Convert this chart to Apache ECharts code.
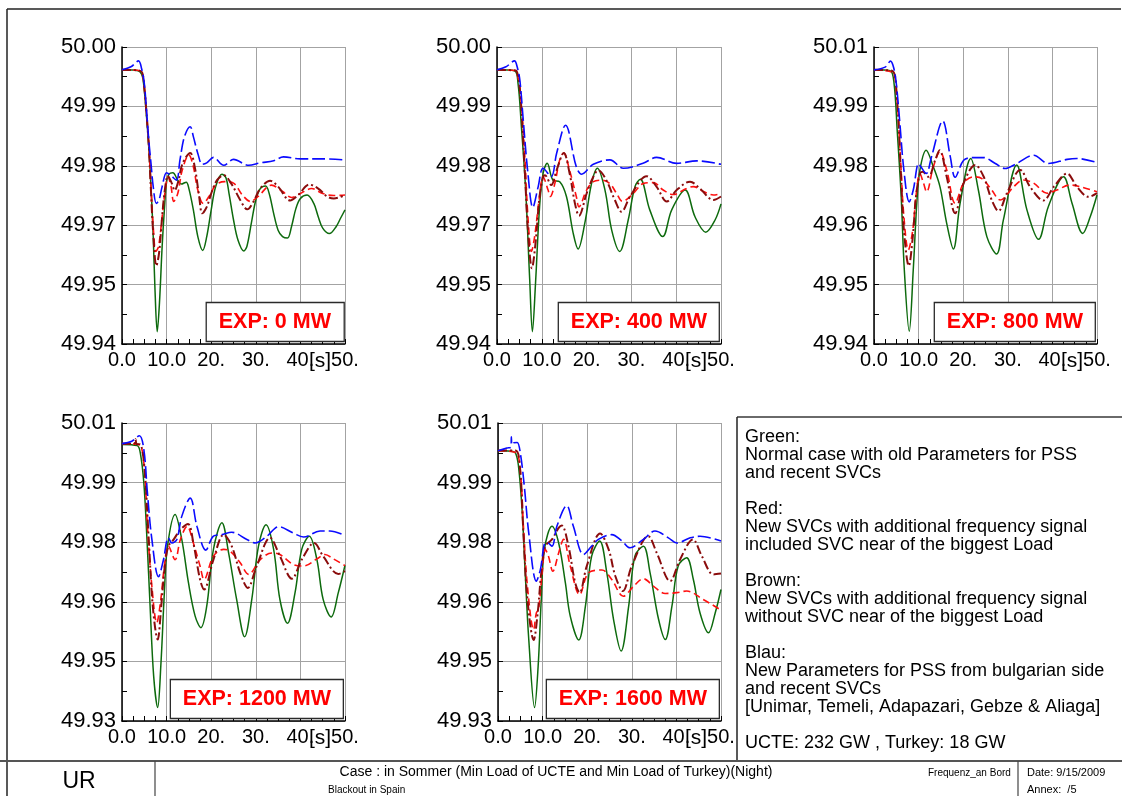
<!DOCTYPE html>
<html>
<head>
<meta charset="utf-8">
<script src="https://cdn.jsdelivr.net/npm/echarts@6/dist/echarts.min.js"></script>
<style>
html,body{margin:0;padding:0;background:#fff;}
#c{width:1122px;height:796px;}
</style>
</head>
<body>
<div id="c"></div>
<script>
// ---------- tick labels ----------
const X_LABELS = ['0.0','10.0','20.','30.','40.','50.'];
const X_UNIT = '[s]';
const Y_LABELS_A = ['49.94','49.95','49.97','49.98','49.99','50.00']; // 0 MW, 400 MW
const Y_LABELS_B = ['49.94','49.95','49.96','49.98','49.99','50.01']; // 800 MW
const Y_LABELS_C = ['49.93','49.95','49.96','49.98','49.99','50.01']; // 1200, 1600 MW

// ---------- data: [time s, frequency deviation from 50 Hz in mHz] ----------
// EXP: 0 MW
const p1Green = [[0,-4.6],[3,-4.7],[4,-5.0],[4.6,-6.0],[5,-8.7],[5.5,-14.1],[6,-20.2],[6.5,-28.2],[7,-38.3],[7.4,-49.1],[7.9,-57.5],[8.4,-51.7],[9,-40.3],[9.5,-32.9],[10,-27.2],[10.5,-25.7],[11.4,-25.4],[12.5,-26.9],[13.3,-27.7],[14.4,-27.3],[15,-28.6],[16,-32.9],[17,-38.3],[18.1,-41.1],[19,-38.3],[20,-32.9],[21,-28.2],[22.4,-25.7],[23.3,-26.4],[24,-29.6],[25,-34.9],[26,-39.0],[27.3,-41.2],[28,-40.3],[29,-35.6],[30,-30.9],[31,-28.6],[32.2,-28.1],[33,-29.6],[34,-33.6],[35,-37.0],[36,-38.3],[37.1,-38.6],[38,-36.3],[39,-32.6],[40,-30.6],[41.5,-29.9],[43,-31.6],[44,-34.3],[45,-36.6],[46.5,-37.7],[48,-36.3],[49,-34.6],[50,-32.9]];
const p1Red = [[0,-4.6],[3.5,-4.7],[4.5,-5.4],[5,-8.1],[5.5,-13.4],[6,-19.5],[6.5,-28.2],[7,-36.3],[7.6,-41.3],[8.2,-40.3],[9,-34.3],[9.6,-29.6],[10.3,-26.2],[11,-28.2],[11.6,-31.2],[12.5,-29.6],[13.5,-24.9],[15,-21.8],[16,-24.2],[17,-28.9],[18.2,-31.6],[19.5,-30.2],[21,-27.9],[23,-27.2],[25,-27.5],[27,-29.9],[28.8,-31.2],[30.5,-30.2],[33.5,-27.9],[36,-29.2],[38,-30.4],[40,-29.6],[42.5,-28.6],[45,-29.6],[47.5,-30.0],[50,-29.9]];
const p1Brown = [[0,-4.6],[3.5,-4.7],[4.5,-5.1],[5,-8.1],[5.5,-13.4],[6,-19.8],[6.5,-29.2],[7,-37.6],[7.7,-44.2],[8.3,-41.7],[9,-34.3],[9.6,-28.9],[10.3,-26.1],[11.2,-27.6],[11.8,-29.0],[12.6,-27.2],[13.6,-23.5],[15.3,-21.4],[16.3,-24.2],[17.3,-30.2],[18,-33.6],[19,-32.3],[20,-29.6],[21.3,-26.9],[22.8,-25.9],[24.5,-27.6],[26.5,-30.9],[28.1,-32.8],[29.5,-31.2],[31,-28.6],[33.2,-27.0],[35,-28.2],[37.7,-31.0],[39.5,-29.9],[42,-27.8],[44,-28.6],[46,-30.2],[47.5,-30.6],[50,-29.9]];
const p1Blue = [[0,-4.6],[2,-4.0],[3.7,-2.8],[4.4,-4.4],[5,-7.4],[5.5,-12.8],[6,-18.8],[6.5,-23.5],[7,-28.2],[7.7,-31.6],[8.3,-30.9],[9,-28.2],[10,-25.4],[11,-26.0],[12.2,-26.9],[13,-22.8],[14,-18.1],[15.3,-16.1],[16,-18.1],[17,-21.5],[18,-23.7],[19,-23.4],[20.5,-22.3],[22.8,-23.9],[25,-22.7],[28.4,-23.9],[31,-23.4],[34,-23.0],[36.2,-22.2],[40,-22.6],[45,-22.6],[50,-22.8]];

// EXP: 400 MW
const p2Green = [[0,-4.6],[3.9,-4.8],[4.7,-7.4],[5.4,-15.5],[6.4,-28.9],[7.3,-47.0],[7.9,-57.5],[8.6,-47.7],[9.5,-32.3],[10.3,-25.5],[11.2,-23.5],[12.5,-26.9],[14.0,-27.2],[15.5,-30.2],[17.0,-37.6],[18.1,-40.8],[19.6,-35.6],[21.1,-27.6],[22.4,-24.5],[24.1,-28.9],[25.6,-37.0],[27.4,-41.3],[29.3,-34.9],[30.8,-28.2],[32.0,-26.7],[34.1,-32.9],[37.0,-38.3],[39.0,-32.9],[42.0,-28.9],[44.2,-34.3],[46.6,-37.4],[48.7,-34.9],[50,-31.7]];
const p2Red = [[0,-4.6],[3.5,-4.7],[4.3,-5.0],[5.1,-8.4],[6.2,-22.0],[6.9,-34.3],[7.7,-41.3],[8.4,-38.3],[9.4,-30.9],[10.3,-26.2],[11.4,-28.9],[11.9,-30.2],[12.9,-27.6],[14.0,-22.8],[14.9,-21.4],[16.2,-24.9],[17.7,-30.2],[18.3,-32.3],[20.0,-28.9],[21.5,-27.2],[23.3,-26.9],[25.2,-27.6],[26.7,-29.6],[28.0,-31.2],[30.4,-29.6],[32.6,-27.6],[34.9,-27.4],[37.1,-28.9],[39.3,-29.8],[42.3,-28.6],[43.8,-28.2],[46.1,-29.2],[48.3,-29.9],[50,-29.6]];
const p2Brown = [[0,-4.6],[3.5,-4.7],[4.3,-4.8],[5.1,-8.4],[6.2,-24.9],[6.9,-37.0],[7.8,-44.7],[8.6,-39.6],[9.5,-30.2],[10.3,-26.2],[10.7,-25.9],[12.1,-27.9],[13.3,-24.9],[14.9,-21.4],[16.2,-25.5],[17.4,-31.6],[18.3,-34.1],[20.0,-29.6],[21.5,-26.2],[22.6,-24.9],[24.4,-26.9],[26.3,-30.9],[27.8,-33.3],[29.7,-30.2],[33.4,-26.1],[35.6,-28.2],[37.9,-31.2],[40.1,-28.9],[43.1,-27.2],[45.3,-28.6],[48.3,-30.9],[50,-30.2]];
const p2Blue = [[0,-4.6],[2,-4.0],[3.9,-2.8],[4.5,-4.0],[5.1,-6.7],[5.8,-14.1],[6.9,-25.5],[8.0,-32.4],[9.2,-28.2],[10.3,-24.5],[12.1,-26.2],[13.3,-21.5],[15.3,-15.8],[17.7,-24.2],[18.9,-25.7],[21.5,-23.7],[25.2,-22.8],[28.2,-24.5],[32.6,-23.5],[35.6,-22.3],[40.1,-23.5],[44.6,-23.0],[50,-23.7]];

// EXP: 800 MW
const p3Green = [[0,0.0],[3.6,-0.2],[4.5,-3.0],[5.2,-13.2],[6.1,-27.8],[6.8,-43.8],[7.9,-57.2],[8.8,-43.8],[9.6,-29.2],[10.3,-21.9],[11.7,-17.6],[13.3,-21.2],[14.8,-25.6],[16.3,-33.6],[17.8,-39.2],[19.3,-29.2],[21.7,-19.4],[23.4,-26.3],[25.3,-36.5],[27.5,-40.3],[29.0,-32.9],[32.0,-20.8],[34.3,-30.7],[36.9,-37.1],[39.1,-29.9],[42.5,-23.4],[44.4,-29.2],[46.8,-35.8],[48.5,-32.1],[50,-27.4]];
const p3Red = [[0,0.0],[4.0,-0.5],[5.1,-5.9],[6.0,-20.5],[6.7,-32.1],[7.7,-39.4],[8.7,-35.0],[9.4,-27.8],[10.3,-22.7],[11.1,-24.8],[11.8,-26.7],[13.3,-21.2],[14.8,-17.9],[16.3,-21.9],[18.2,-29.2],[20.1,-24.8],[22.3,-23.4],[24.2,-23.8],[26.4,-26.3],[28.3,-28.5],[31.3,-25.6],[33.5,-24.1],[35.8,-24.8],[38.8,-27.0],[41.0,-26.3],[44.0,-25.2],[46.3,-25.6],[50,-26.7]];
const p3Brown = [[0,0.0],[4.0,-0.2],[5.1,-5.9],[6.0,-21.9],[6.7,-35.0],[7.8,-42.9],[8.7,-36.5],[9.4,-27.8],[10.3,-22.7],[10.9,-22.3],[12.2,-23.4],[13.7,-19.8],[14.7,-17.6],[16.3,-23.4],[18.2,-31.4],[20.1,-24.8],[22.7,-20.8],[24.6,-23.4],[26.4,-28.5],[27.9,-30.9],[29.8,-27.0],[32.8,-21.9],[35.0,-25.6],[38.0,-28.6],[40.3,-25.6],[43.3,-22.7],[45.5,-25.6],[48.1,-27.8],[50,-27.0]];
const p3Blue = [[0,0.0],[2.5,0.6],[3.7,1.9],[4.4,0.5],[5.0,-3.0],[5.8,-11.7],[6.7,-21.9],[7.9,-28.9],[8.8,-26.3],[10.0,-20.5],[10.5,-21.2],[11.7,-22.7],[12.9,-19.0],[15.4,-11.2],[17.1,-19.0],[18.2,-23.5],[20.1,-19.8],[22.3,-19.2],[24.6,-19.2],[27.2,-20.5],[29.4,-21.6],[32.0,-20.5],[35.8,-18.7],[39.1,-20.5],[43.3,-19.6],[45.5,-19.4],[50,-20.3]];

// EXP: 1200 MW
const p4Green = [[0,-0.4],[3.4,-0.7],[4.1,-2.5],[4.9,-10.1],[5.6,-24.3],[6.3,-41.1],[7.1,-58.7],[8.0,-66.6],[8.7,-56.2],[9.5,-37.7],[10.2,-26.0],[11.9,-18.0],[13.4,-24.3],[14.9,-35.2],[16.4,-43.6],[17.7,-46.5],[19.0,-41.1],[20.5,-26.8],[22.4,-20.1],[23.9,-27.7],[25.7,-39.4],[27.5,-48.8],[29.1,-39.4],[30.6,-26.0],[32.3,-20.6],[34.0,-26.8],[35.4,-39.4],[37.1,-45.4],[38.8,-37.7],[40.3,-26.8],[42.0,-23.5],[43.7,-29.4],[45.1,-39.4],[46.9,-43.8],[48.5,-37.7],[50,-30.8]];
const p4Red = [[0,-0.2],[3.7,-0.4],[4.9,-5.1],[5.7,-21.0],[6.7,-36.1],[7.8,-45.3],[8.7,-39.4],[9.5,-31.0],[10.4,-26.0],[11.9,-29.4],[13.1,-24.3],[14.6,-21.0],[16.0,-25.2],[17.5,-31.0],[18.4,-34.4],[20.5,-28.5],[22.8,-26.8],[24.3,-27.3],[26.5,-30.2],[28.4,-33.1],[31.0,-29.4],[33.6,-27.7],[35.4,-28.1],[38.4,-30.6],[40.7,-31.0],[43.7,-29.2],[45.5,-28.1],[47.4,-29.2],[50,-30.9]];
const p4Brown = [[0,-0.2],[2.7,-0.2],[3.0,1.0],[3.3,-0.3],[4.1,-0.4],[5.0,-5.9],[6.0,-24.3],[6.9,-41.1],[8.0,-49.5],[8.8,-41.1],[9.6,-31.0],[10.4,-26.0],[11.6,-24.3],[13.1,-21.8],[14.8,-20.4],[16.0,-25.2],[17.5,-34.4],[18.4,-36.9],[20.5,-29.4],[22.8,-23.1],[24.6,-26.0],[26.5,-32.7],[28.2,-36.5],[30.2,-31.0],[33.2,-23.9],[35.4,-28.5],[38.1,-34.2],[40.3,-29.4],[43.1,-25.2],[45.1,-28.5],[48.5,-33.0],[50,-32.3]];
const p4Blue = [[0,-0.2],[2.2,0.4],[3.9,1.8],[4.9,-1.7],[5.7,-12.6],[6.7,-24.3],[8.2,-33.7],[9.3,-29.4],[10.4,-23.9],[11.2,-25.2],[12.3,-24.3],[13.4,-18.5],[15.3,-13.9],[16.8,-21.0],[18.8,-27.0],[20.5,-23.5],[22.4,-23.1],[24.6,-22.5],[28.0,-24.3],[29.9,-25.2],[32.5,-23.5],[35.1,-21.1],[38.4,-22.7],[40.7,-23.7],[44.4,-22.2],[46.6,-22.2],[50,-23.3]];

// EXP: 1600 MW
const p5Green = [[0,-2.0],[2.8,-2.1],[3.9,-2.5],[4.6,-5.9],[5.4,-16.8],[6.1,-32.7],[6.9,-49.5],[8.2,-66.6],[9.0,-56.2],[9.7,-39.4],[10.4,-26.8],[12.1,-21.0],[13.6,-25.2],[15.1,-35.2],[16.2,-43.6],[18.1,-49.6],[19.6,-41.1],[21.0,-28.5],[22.8,-24.7],[24.4,-32.7],[25.9,-44.4],[27.6,-52.4],[29.3,-41.1],[30.7,-28.5],[32.6,-26.0],[34.1,-32.7],[36.0,-44.4],[37.5,-49.5],[39.0,-41.1],[40.4,-31.0],[42.3,-28.9],[43.8,-34.4],[45.3,-42.8],[47.2,-47.8],[48.7,-42.8],[50,-36.9]];
const p5Red = [[0,-2.0],[3.9,-2.4],[4.9,-5.9],[5.7,-21.0],[6.6,-36.1],[8.0,-47.0],[8.6,-42.8],[9.1,-41.9],[9.9,-32.7],[10.6,-26.8],[11.3,-28.5],[12.3,-32.3],[13.6,-27.7],[14.7,-24.3],[16.2,-31.0],[18.3,-38.2],[20.3,-32.7],[23.3,-32.0],[25.5,-34.4],[28.1,-38.6],[30.4,-36.1],[32.6,-34.2],[34.9,-36.1],[37.5,-37.9],[40.1,-37.7],[42.3,-37.3],[46.0,-39.4],[50,-42.1]];
const p5Brown = [[0,-1.9],[3.9,-1.9],[4.9,-5.9],[5.7,-22.7],[6.6,-39.4],[8.0,-49.6],[8.9,-42.8],[9.7,-32.7],[10.6,-26.0],[12.1,-24.3],[13.6,-21.4],[14.3,-20.8],[15.8,-26.0],[17.3,-35.2],[18.3,-37.7],[19.9,-31.0],[22.9,-22.8],[24.8,-26.8],[26.3,-33.5],[28.0,-37.3],[30.0,-31.0],[33.7,-23.5],[35.6,-27.7],[38.6,-34.8],[40.8,-29.4],[43.7,-24.3],[45.7,-28.5],[48.3,-33.1],[50,-32.9]];
const p5Blue = [[0,-2.0],[2.0,-1.3],[2.9,-1.0],[3.0,1.5],[3.1,-0.5],[3.5,0.0],[4.3,0.1],[5.0,-2.5],[5.9,-10.9],[6.9,-22.7],[8.6,-34.8],[9.5,-31.9],[10.6,-25.2],[11.1,-25.2],[12.1,-26.0],[13.2,-21.0],[15.4,-15.8],[16.9,-21.0],[19.2,-28.1],[21.0,-26.0],[22.5,-24.3],[25.5,-23.1],[27.8,-24.7],[29.6,-26.4],[32.6,-24.3],[35.2,-22.2],[38.2,-23.9],[40.1,-25.2],[43.1,-23.9],[45.3,-23.5],[50,-24.7]];

const EXP_TEXT = ['EXP: 0 MW','EXP: 400 MW','EXP: 800 MW','EXP: 1200 MW','EXP: 1600 MW'];

// ---------- layout / axis ranges ----------
const panels = [
  {left:122, top:47, w:223, h:297, yLabels:Y_LABELS_A, devMin:-60, step:12, d:[p1Green,p1Red,p1Brown,p1Blue]},
  {left:497, top:47, w:224, h:297, yLabels:Y_LABELS_A, devMin:-60, step:12, d:[p2Green,p2Red,p2Brown,p2Blue]},
  {left:874, top:47, w:223, h:297, yLabels:Y_LABELS_B, devMin:-60, step:13, d:[p3Green,p3Red,p3Brown,p3Blue]},
  {left:122, top:423, w:223, h:298, yLabels:Y_LABELS_C, devMin:-70, step:15, d:[p4Green,p4Red,p4Brown,p4Blue]},
  {left:498, top:423, w:223, h:298, yLabels:Y_LABELS_C, devMin:-70, step:15, d:[p5Green,p5Red,p5Brown,p5Blue]}
];
const styles = [
  {name:'Green', color:'#0d6a0d', type:'solid', width:1.5},
  {name:'Red',   color:'#ff1010', type:[7,4], width:1.6},
  {name:'Brown', color:'#8a0c0c', type:[9,3,2,3], width:2},
  {name:'Blue',  color:'#0a0aff', type:[13,4], width:1.6}
];

const W = 1122, H = 796;
const FONT = '"Liberation Sans", Arial, sans-serif';
const NARROW = '"Liberation Sans Narrow", "Liberation Sans", Arial, sans-serif';

function ln(x1,y1,x2,y2,c,w){return {type:'line', silent:true, shape:{x1,y1,x2,y2}, style:{stroke:c, lineWidth:w}, z:20};}
function tx(x,y,text,font,align,va){return {type:'text', silent:true, x, y, z:20,
  style:{text, font, fill:'#000', align:align||'left', textAlign:align||'left', verticalAlign:va||'middle', textVerticalAlign:va||'middle'}};}

const grid = [], xAxis = [], yAxis = [], series = [], title = [], unitLabels = [];
panels.forEach((p, i) => {
  grid.push({left:p.left, top:p.top, width:p.w, height:p.h, containLabel:false, show:false});
  xAxis.push({
    type:'value', gridIndex:i, min:0, max:50, interval:10,
    axisLine:{onZero:false, lineStyle:{color:'#000', width:1.5}},
    axisTick:{show:true, inside:true, length:5, lineStyle:{color:'#000'}},
    minorTick:{show:true, splitNumber:4, length:5, lineStyle:{color:'#000'}},
    axisLabel:{fontFamily:FONT, fontSize:20, color:'#000', margin:6,
      formatter: v => X_LABELS[Math.round(v/10)] || ''},
    splitLine:{show:true, lineStyle:{color:'#a3a3a3', width:1}}
  });
  yAxis.push({
    type:'value', gridIndex:i, min:0, max:5, interval:1,
    axisLine:{onZero:false, lineStyle:{color:'#000', width:1.5}},
    axisTick:{show:true, inside:true, length:5, lineStyle:{color:'#000'}},
    minorTick:{show:true, splitNumber:2, length:5, lineStyle:{color:'#000'}},
    axisLabel:{fontFamily:FONT, fontSize:22, color:'#000', margin:6,
      formatter: v => p.yLabels[Math.round(v)] || ''},
    splitLine:{show:true, lineStyle:{color:'#a3a3a3', width:1}}
  });
  p.d.forEach((arr, k) => {
    const s = styles[k];
    series.push({
      type:'line', name:s.name, xAxisIndex:i, yAxisIndex:i,
      data: arr.map(([t, dev]) => [t, (dev - p.devMin) / p.step]),
      showSymbol:false, symbol:'none', smooth:0.35, z:2+k,
      lineStyle:{color:s.color, type:s.type, width:s.width},
      emphasis:{disabled:true}
    });
  });
  title.push({
    text: EXP_TEXT[i],
    right: W - (p.left + p.w) + 1,
    bottom: H - (p.top + p.h) + 2,
    padding:[9,13,9,13],
    backgroundColor:'#fff', borderColor:'#2a2a2a', borderWidth:1.3,
    textStyle:{fontFamily:FONT, fontSize:21.5, fontWeight:'bold', color:'#ff0000'},
    z:10
  });
  // the "[s]" unit text that sits over the last x labels
  unitLabels.push(tx(p.left + p.w - 36, p.top + p.h + 17, X_UNIT, '21px '+FONT, 'left'));
});

const descText = [
  'Green:',
  'Normal case with old Parameters for PSS',
  'and recent SVCs',
  '',
  'Red:',
  'New SVCs with additional frequency signal',
  'included SVC near of the biggest Load',
  '',
  'Brown:',
  'New SVCs with additional frequency signal',
  'without SVC near of the biggest Load',
  '',
  'Blau:',
  'New Parameters for PSS from bulgarian side',
  'and recent SVCs',
  '[Unimar, Temeli, Adapazari, Gebze & Aliaga]',
  '',
  'UCTE: 232 GW , Turkey: 18 GW'
].join('\n');

const graphic = [
  ln(7,9,1121,9,'#222',1.5),
  ln(7,9,7,796,'#222',1.5),
  ln(737,417,1122,417,'#6a6a6a',2),
  ln(737,417,737,761,'#222',1.5),
  ln(0,761,1122,761,'#555',2),
  ln(155,761,155,796,'#444',1.2),
  ln(1018,761,1018,796,'#444',1.2),
  {type:'text', silent:true, x:745, y:428, z:20,
   style:{text:descText, font:'18px '+FONT, fill:'#000', lineHeight:18, align:'left', textAlign:'left', verticalAlign:'top', textVerticalAlign:'top'}},
  tx(79,782,'UR','23px '+NARROW,'center'),
  tx(556,772,'Case : in Sommer (Min Load of UCTE and Min Load of Turkey)(Night)','14px '+NARROW,'center'),
  tx(328,790,'Blackout in Spain','10px '+NARROW,'left'),
  tx(928,773,'Frequenz_an Bord','10px '+NARROW,'left'),
  tx(1027,773,'Date: 9/15/2009','11px '+NARROW,'left'),
  tx(1027,790,'Annex:  /5','11px '+NARROW,'left')
].concat(unitLabels);

const chart = echarts.init(document.getElementById('c'), null, {renderer:'canvas', width:W, height:H});
chart.setOption({
  animation:false,
  backgroundColor:'#fff',
  title, grid, xAxis, yAxis, series, graphic
});
</script>
</body>
</html>
